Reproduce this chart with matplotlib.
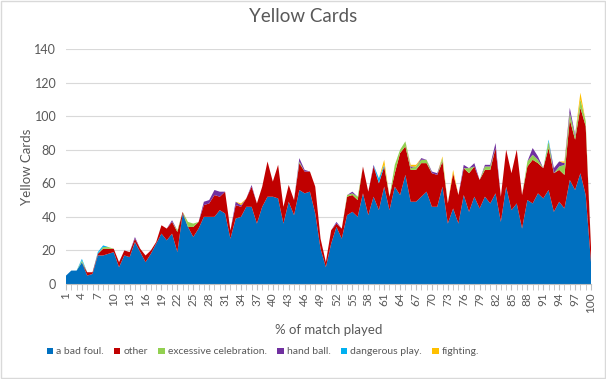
import matplotlib
matplotlib.use("Agg")
import matplotlib.pyplot as plt
from matplotlib.patches import Patch
import numpy as np

plt.rcParams['font.family'] = ['Lato', 'DejaVu Sans']

minutes = list(range(1, 101))

bad_foul = [5, 8, 8, 13, 5, 6, 17, 17, 18, 19,
            10, 17, 16, 25, 19, 13, 18, 24, 30, 26,
            30, 19, 42, 34, 28, 33, 40, 40, 40, 44,
            42, 27, 39, 40, 46, 46, 36, 46, 52, 52,
            51, 36, 49, 41, 56, 54, 55, 42, 21, 10,
            24, 34, 27, 41, 43, 40, 54, 41, 52, 44,
            58, 44, 58, 53, 65, 49, 49, 52, 55, 46,
            46, 58, 36, 45, 36, 53, 43, 52, 45, 52,
            48, 54, 37, 58, 44, 48, 33, 50, 48, 54,
            51, 56, 43, 49, 45, 62, 56, 66, 53, 13]

other = [0, 0, 0, 0, 2, 1, 1, 4, 3, 2,
         3, 3, 3, 2, 2, 4, 2, 1, 5, 7,
         7, 12, 1, 0, 6, 4, 7, 8, 13, 8,
         13, 5, 8, 6, 5, 12, 12, 12, 21, 9,
         20, 10, 10, 9, 16, 13, 12, 16, 6, 3,
         8, 2, 6, 11, 10, 10, 16, 14, 18, 16,
         12, 8, 8, 25, 17, 19, 19, 20, 17, 20,
         19, 15, 12, 21, 17, 16, 23, 18, 17, 16,
         20, 27, 15, 22, 22, 32, 20, 20, 26, 18,
         18, 25, 23, 19, 20, 36, 30, 39, 41, 9]

celebration_idx = {4: 1, 8: 1, 9: 1, 22: 1, 24: 3, 25: 2, 45: 1, 54: 1, 55: 1, 56: 2,
                   63: 5, 64: 2, 65: 3, 66: 1, 67: 2, 68: 2, 69: 2, 72: 2, 77: 3,
                   80: 2, 81: 2, 88: 3, 89: 3, 90: 2, 92: 4, 94: 2, 95: 6, 96: 4,
                   97: 2, 98: 5, 99: 3}
hand_idx = {14: 1, 21: 1, 27: 2, 28: 2, 29: 3, 30: 3, 33: 2, 34: 1, 36: 1, 45: 2,
            46: 1, 52: 1, 55: 1, 59: 1, 66: 1, 68: 1, 70: 1, 71: 1, 76: 2, 78: 2,
            80: 1, 81: 1, 82: 3, 89: 4, 90: 2, 93: 3, 94: 3, 95: 1, 96: 3, 97: 1}
danger_idx = {4: 1, 7: 1, 8: 1, 60: 3, 61: 1, 92: 1}
fight_idx = {34: 1, 61: 3, 66: 1, 67: 1, 72: 1, 74: 2, 95: 1, 98: 4}

celebration = [celebration_idx.get(m, 0) for m in minutes]
hand_ball = [hand_idx.get(m, 0) for m in minutes]
dangerous = [danger_idx.get(m, 0) for m in minutes]
fighting = [fight_idx.get(m, 0) for m in minutes]

labels = ["a bad foul.", "other", "excessive celebration.", "hand ball.",
          "dangerous play.", "fighting."]
colors = ["#0070C0", "#C00000", "#92D050", "#7030A0", "#00B0F0", "#FFC000"]

fig = plt.figure(figsize=(6.06, 3.79), dpi=100)
fig.patch.set_facecolor("white")
ax = fig.add_axes([66/606, 1-284/379, 525/606, 235/379])

ax.stackplot(minutes, bad_foul, other, celebration, hand_ball, dangerous, fighting,
             colors=colors, linewidth=0, zorder=2)

ax.set_xlim(1, 100)
ax.set_ylim(0, 140)
ax.set_yticks(range(0, 141, 20))
ax.set_xticks(minutes[::3])
ax.set_xticklabels([str(m) for m in minutes[::3]], rotation=90)
ax.set_xticks(minutes, minor=True)
ax.grid(axis="y", color="#d9d9d9", linewidth=0.8, zorder=0)
ax.set_axisbelow(True)
for s in ["top", "right", "left"]:
    ax.spines[s].set_visible(False)
ax.spines["bottom"].set_color("#bfbfbf")
ax.tick_params(axis="y", length=0, labelsize=9, colors="#595959", pad=7)
ax.tick_params(axis="x", which="both", length=4, color="#bfbfbf", labelsize=8.5,
               labelcolor="#595959", pad=2)

ax.set_xlabel("% of match played", fontsize=9.5, color="#595959", labelpad=8)
ax.set_ylabel("Yellow Cards", fontsize=9.5, color="#595959", labelpad=1)
fig.text(0.5, 1-17/379, "Yellow Cards", ha="center", va="center", fontsize=13.5,
         color="#595959")

handles = [Patch(facecolor=c, edgecolor="none") for c in colors]
fig.legend(handles, labels, loc="center", bbox_to_anchor=(263/606, 1-352/379), ncol=6,
           frameon=False, fontsize=7.5, handlelength=0.6, handleheight=0.6,
           handletextpad=0.3, columnspacing=1.0, labelcolor="#595959")

fig.add_artist(plt.Rectangle((0.002, 0.002), 0.996, 0.996, transform=fig.transFigure,
                             fill=False, edgecolor="#d9d9d9", linewidth=1))

fig.savefig("out.png", dpi=100, facecolor="white")
